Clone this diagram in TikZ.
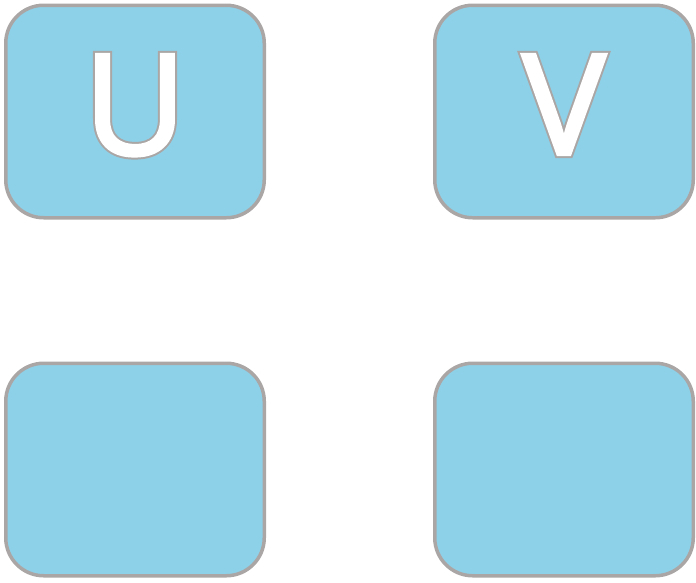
\documentclass[tikz,border=0pt]{standalone}
\usepackage{fontspec}
\newfontfamily\tilefont{Open Sans}
\usetikzlibrary{positioning}
\definecolor{tileblue}{RGB}{141,209,233}
\definecolor{tilegray}{RGB}{170,166,166}
% letter drawn twice: a wide gray stroke, then a white fill and stroke on top
\newcommand{\outlined}[1]{\rlap{\special{pdf:literal 1 Tr 0.667 0.651 0.651 RG 7.5 w 0 j 4 M}#1}%
  \special{pdf:literal 2 Tr 1 G 3.5 w 0 j}#1\special{pdf:literal 0 Tr}}

\begin{document}
\begin{tikzpicture}[
        on grid,
        tile/.style={draw=tilegray, line width=3.5pt, fill=tileblue,
          rounded corners=38pt, minimum width=258.5pt, minimum height=212.5pt,
          inner sep=0pt, text depth=14pt, text=white,
          font=\tilefont\fontsize{140}{140}\selectfont}
        ]
        \useasboundingbox (0,0) rectangle (696pt,-582pt);

        \node[tile]                          (u)  at (135pt,-111.5pt) {\outlined{U}};
        \node[tile, right=429pt of u]        (v)                      {\outlined{V}};
        \node[tile, below=358pt of u]        (ul)                     {};
        \node[tile, below=358pt of v]        (vl)                     {};
      \end{tikzpicture}
\end{document}
